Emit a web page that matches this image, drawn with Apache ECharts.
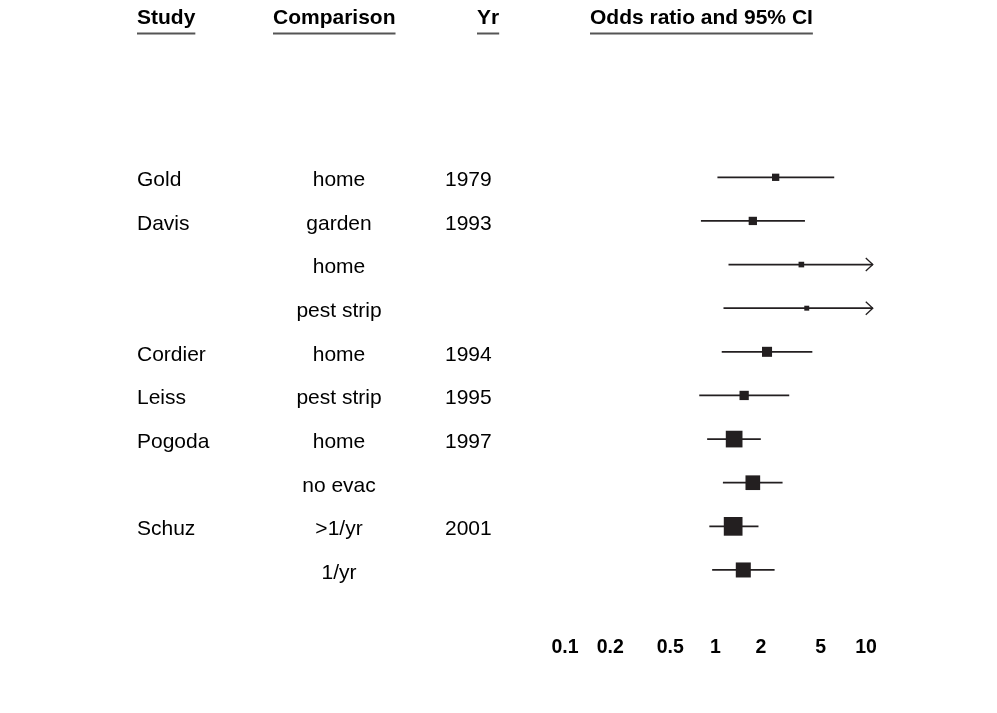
<!DOCTYPE html>
<html>
<head>
<meta charset="utf-8">
<script src="https://cdn.jsdelivr.net/npm/echarts@6/dist/echarts.min.js"></script>
<style>
html,body{margin:0;padding:0;background:#fff;}
#chart{width:997px;height:713px;}
</style>
</head>
<body>
<div id="chart"></div>
<script>
// ---- data ----
const studies     = ['Gold', 'Davis', '', '', 'Cordier', 'Leiss', 'Pogoda', '', 'Schuz', ''];
const comparisons = ['home', 'garden', 'home', 'pest strip', 'home', 'pest strip', 'home', 'no evac', '>1/yr', '1/yr'];
const years       = ['1979', '1993', '', '', '1994', '1995', '1997', '', '2001', ''];
const oddsRatio   = [2.51, 1.77, 3.72, 4.04, 2.20, 1.55, 1.33, 1.77, 1.31, 1.53];
const lowerCI     = [1.03, 0.80, 1.22, 1.13, 1.10, 0.78, 0.88, 1.12, 0.91, 0.95];
const upperCI     = [6.15, 3.93, 12.5, 12.5, 4.40, 3.09, 2.00, 2.79, 1.93, 2.47]; // Davis home / pest strip truncated beyond axis
const weights     = [3.7, 4.8, 2.2, 1.7, 7.0, 6.0, 19.4, 15.0, 24.4, 15.7];
const tickValues  = [0.1, 0.2, 0.5, 1, 2, 5, 10];
const tickLabels  = ['0.1', '0.2', '0.5', '1', '2', '5', '10'];
const headers     = ['Study', 'Comparison', 'Yr', 'Odds ratio and 95% CI'];

// ---- layout / style ----
const FONT = "'Liberation Sans', Arial, Helvetica, sans-serif";
const INK = '#231f20';
const X_MIN = -1, X_MAX = 1.045;
const COL_STUDY = 137, COL_COMP = 339, COL_YR = 445;
const headerPos = [{x: 137}, {x: 273}, {x: 477}, {x: 590}];
const SIZE_K = 3.79;

const chart = echarts.init(document.getElementById('chart'));

const data = oddsRatio.map((v, i) => [i, Math.log10(v), Math.log10(lowerCI[i]), Math.log10(upperCI[i])]);

// measure header text widths for underlines
const cv = document.createElement('canvas').getContext('2d');
cv.font = "bold 21px " + FONT;
const graphics = [];
headers.forEach((h, i) => {
  const w = cv.measureText(h).width;
  const p = headerPos[i];
  graphics.push({
    type: 'text', left: p.x, top: 8,
    style: {text: h, fill: '#000', font: "bold 21px " + FONT}
  });
  graphics.push({
    type: 'line', shape: {x1: p.x, y1: 33.5, x2: p.x + w, y2: 33.5},
    style: {stroke: '#555', lineWidth: 2}
  });
});

chart.setOption({
  animation: false,
  backgroundColor: '#fff',
  graphic: graphics,
  grid: {left: 565, right: 997 - 565 - (X_MAX - X_MIN) * 150.5, top: 177.3, bottom: 713 - (177.3 + 10.5 * 43.63)},
  xAxis: {
    type: 'value', min: X_MIN, max: X_MAX,
    axisLine: {show: false}, axisTick: {show: false}, splitLine: {show: false},
    axisLabel: {
      customValues: tickValues.map(v => Math.log10(v)),
      margin: 2.5,
      fontFamily: FONT, fontSize: 19.5, fontWeight: 'bold', color: '#000',
      formatter: function (val) {
        let best = 0, bd = Infinity;
        tickValues.forEach((t, k) => { const d = Math.abs(Math.log10(t) - val); if (d < bd) { bd = d; best = k; } });
        return tickLabels[best];
      }
    }
  },
  yAxis: {
    type: 'value', inverse: true, min: 0, max: 10.5, show: false
  },
  series: [{
    type: 'custom',
    clip: false,
    data: data,
    encode: {x: [1, 2, 3], y: 0},
    renderItem: function (params, api) {
      const i = api.value(0);
      const c = api.coord([api.value(1), i]);
      const y = c[1];
      const xl = api.coord([Math.max(api.value(2), X_MIN), i])[0];
      const truncated = api.value(3) > X_MAX;
      const xh = api.coord([Math.min(api.value(3), X_MAX), i])[0];
      const s = Math.sqrt(weights[i]) * SIZE_K;
      const children = [
        {type: 'line', shape: {x1: xl, y1: y, x2: xh, y2: y}, style: {stroke: INK, lineWidth: 1.7}},
        {type: 'rect', shape: {x: c[0] - s / 2, y: y - s / 2, width: s, height: s}, style: {fill: INK}}
      ];
      if (truncated) {
        children.push({type: 'polyline', shape: {points: [[xh - 7, y - 6.5], [xh, y], [xh - 7, y + 6.5]]},
          style: {stroke: INK, lineWidth: 1.3, fill: null}});
      }
      const ty = y + 3;
      const tstyle = (t, x, align) => ({type: 'text', x: x, y: ty,
        style: {text: t, fill: '#000', font: "21px " + FONT, align: align, verticalAlign: 'middle'}});
      if (studies[i]) children.push(tstyle(studies[i], COL_STUDY, 'left'));
      children.push(tstyle(comparisons[i], COL_COMP, 'center'));
      if (years[i]) children.push(tstyle(years[i], COL_YR, 'left'));
      return {type: 'group', children: children};
    }
  }]
});
</script>
</body>
</html>
